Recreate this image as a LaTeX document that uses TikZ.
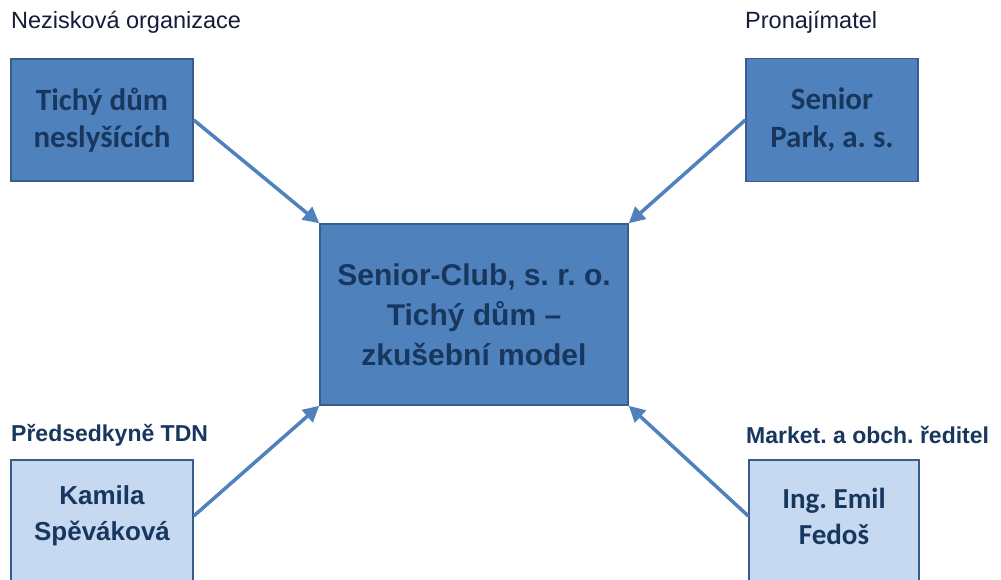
\documentclass[tikz,border=0pt]{standalone}
\usepackage{fontspec}
\setmainfont{Liberation Sans}
\newfontfamily\calib{Carlito}
\usetikzlibrary{arrows.meta}
\definecolor{boxdark}{HTML}{4F81BD}
\definecolor{boxlight}{HTML}{C6D9F1}
\definecolor{boxedge}{HTML}{385D8A}
\definecolor{navy}{HTML}{17375E}
\definecolor{labelc}{HTML}{141C3A}
\definecolor{arrowc}{HTML}{4F81BD}
\tikzset{
  darkbox/.style={draw=boxedge, line width=1.5pt, fill=boxdark, text=navy, align=center, inner sep=0pt},
  lightbox/.style={draw=boxedge, line width=1.5pt, fill=boxlight, inner sep=0pt},
  boxtext/.style={text=navy, align=center, inner sep=0pt},
  toplabel/.style={text=labelc, inner sep=0pt, font=\fontsize{23.5}{28}\selectfont},
  botlabel/.style={text=navy, inner sep=0pt, font=\fontsize{23}{28}\selectfont\bfseries},
  link/.style={draw=arrowc, line width=3.5pt, -{Triangle[length=16pt,width=16pt]}}
}
\frenchspacing
\begin{document}
\begin{tikzpicture}[x=1pt,y=-1pt]
\useasboundingbox (0,0) rectangle (1001,579);
\clip (0,0) rectangle (1001,579);
\fill[white] (0,0) rectangle (1001,579);
% boxes
\node[darkbox, minimum width=182pt, minimum height=122pt, font=\calib\bfseries\fontsize{31}{37}\selectfont] (tdn) at (102,120) {Tichý dům\\neslyšících};
\node[darkbox, minimum width=172pt, minimum height=123pt, font=\calib\bfseries\fontsize{31}{38}\selectfont] (sp) at (832,120) {Senior\\Park, a. s.};
\node[darkbox, minimum width=308pt, minimum height=181pt, font=\bfseries\fontsize{30}{40}\selectfont] (sc) at (474,314.5) {Senior-Club, s. r. o.\\Tichý dům –\\zkušební model};
\node[lightbox, minimum width=182pt, minimum height=140pt] (ks) at (102,530) {};
\node[boxtext, font=\bfseries\fontsize{26}{36}\selectfont] (kst) at (102,516) {Kamila\\Spěváková};
\node[lightbox, minimum width=170pt, minimum height=140pt] (ef) at (834,530) {};
\node[boxtext, font=\calib\bfseries\fontsize{29}{36}\selectfont] (eft) at (834,516) {Ing. Emil\\Fedoš};
% labels
\node[toplabel, anchor=west] (l1) at (11,22) {Nezisková organizace};
\node[toplabel, anchor=west] (l2) at (745,22) {Pronajímatel};
\node[botlabel, anchor=west] (l3) at (11,435) {Předsedkyně TDN};
\node[botlabel, anchor=west] (l4) at (746,435) {Market. a obch. ředitel};
% connectors
\draw[link] (tdn.east) -- (sc.north west);
\draw[link] (sp.west) -- (sc.north east);
\draw[link] (ks.east |- kst.center) -- (sc.south west);
\draw[link] (ef.west |- eft.center) -- (sc.south east);
\end{tikzpicture}
\end{document}
